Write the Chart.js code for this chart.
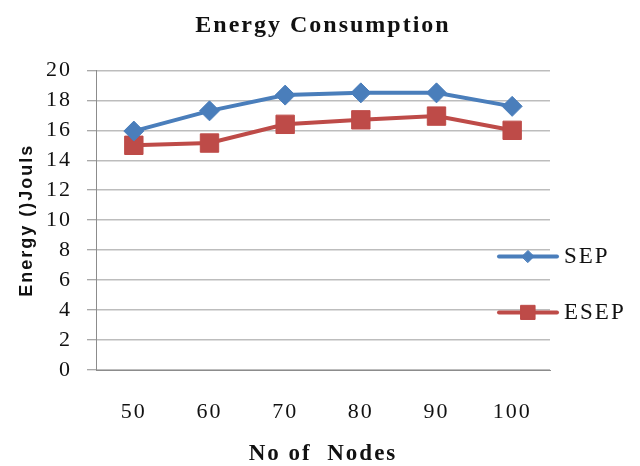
<!DOCTYPE html>
<html>
<head>
<meta charset="utf-8">
<title>Energy Consumption</title>
<script src="https://cdn.jsdelivr.net/npm/chart.js@4/dist/chart.umd.min.js"></script>
<style>
  html, body { margin: 0; padding: 0; background: #fff; }
  #wrap { width: 640px; height: 466px; }
</style>
</head>
<body>
<div id="wrap"><canvas id="energyChart" width="640" height="466"></canvas></div>
<script>
const nodeCounts = ["50", "60", "70", "80", "90", "100"];
const sepEnergy = [15.95, 17.3, 18.35, 18.5, 18.5, 17.6];
const esepEnergy = [15.0, 15.15, 16.4, 16.7, 16.95, 16.0];
const seriesNames = ["SEP", "ESEP"];

const serif = "'Liberation Serif', 'Times New Roman', serif";
const sans = "'Liberation Sans', Arial, sans-serif";

// the original text is set quite loose, so widen the tracking a bit
const looseText = {
  id: "looseText",
  beforeUpdate(chart) { chart.ctx.letterSpacing = "2px"; },
  beforeDraw(chart) { chart.ctx.letterSpacing = "2px"; }
};

// legend drawn to the right, overlapping the gridlines like the original
const sideLegend = {
  id: "sideLegend",
  afterDraw(chart) {
    const ctx = chart.ctx;
    const area = chart.chartArea;
    const rowY = [area.top + 186, area.top + 242];
    const markerSize = [6, 10];
    ctx.save();
    chart.data.datasets.forEach((ds, i) => {
      const y = rowY[i];
      const x0 = area.right - 51;
      const x1 = area.right + 7;
      ctx.strokeStyle = ds.borderColor;
      ctx.lineWidth = 4;
      ctx.lineCap = "round";
      ctx.beginPath();
      ctx.moveTo(x0, y);
      ctx.lineTo(x1, y);
      ctx.stroke();
      ctx.fillStyle = ds.backgroundColor;
      ctx.lineWidth = 1;
      Chart.helpers.drawPoint(ctx, {
        pointStyle: ds.pointStyle,
        radius: markerSize[i],
        borderWidth: 1
      }, (x0 + x1) / 2, y);
      ctx.fillStyle = "#111";
      ctx.font = "23px " + serif;
      ctx.textBaseline = "middle";
      ctx.textAlign = "left";
      ctx.fillText(ds.label, x1 + 7, y + 1);
    });
    ctx.restore();
  }
};

new Chart(document.getElementById("energyChart"), {
  type: "line",
  data: {
    labels: nodeCounts,
    datasets: [
      {
        label: seriesNames[0],
        data: sepEnergy,
        borderColor: "#4a7ebb",
        backgroundColor: "#4a7ebb",
        borderWidth: 4,
        pointStyle: "rectRot",
        pointRadius: 10,
        pointBorderWidth: 1,
        tension: 0
      },
      {
        label: seriesNames[1],
        data: esepEnergy,
        borderColor: "#be4b48",
        backgroundColor: "#be4b48",
        borderWidth: 4,
        pointStyle: "rect",
        pointRadius: 13,
        pointBorderWidth: 1,
        tension: 0
      }
    ]
  },
  options: {
    responsive: false,
    animation: false,
    layout: { padding: { left: 0, right: 90, top: 0, bottom: 0 } },
    plugins: {
      legend: { display: false },
      tooltip: { enabled: false },
      title: {
        display: true,
        fullSize: false,
        text: "Energy Consumption",
        color: "#111",
        font: { family: serif, size: 24, weight: "bold", lineHeight: 1.1 },
        padding: { top: 13, bottom: 31 }
      }
    },
    scales: {
      x: {
        offset: true,
        grid: { display: false, drawTicks: false },
        border: { display: true, color: "#8c8c8c", width: 1 },
        ticks: {
          color: "#111",
          font: { family: serif, size: 22 },
          padding: 29,
          maxRotation: 0
        },
        title: {
          display: true,
          text: "No of  Nodes",
          color: "#111",
          font: { family: serif, size: 23, weight: "bold", lineHeight: 1.0 },
          padding: { top: 0, bottom: 0 }
        },
        afterFit(scale) { scale.height = 96; }
      },
      y: {
        min: 0,
        max: 20,
        ticks: {
          stepSize: 2,
          color: "#111",
          font: { family: serif, size: 22 },
          padding: 15
        },
        grid: {
          color: "#bdbdbd",
          lineWidth: 1.5,
          tickLength: 9,
          tickColor: "#8c8c8c",
          tickWidth: 1
        },
        border: { display: true, color: "#8c8c8c", width: 1 },
        title: {
          display: true,
          text: "Energy ()Jouls",
          color: "#111",
          font: { family: sans, size: 18, weight: "bold", lineHeight: 1.2 },
          padding: { top: 16, bottom: 0 }
        },
        afterFit(scale) { scale.width = 96; }
      }
    }
  },
  plugins: [looseText, sideLegend]
});
</script>
</body>
</html>
